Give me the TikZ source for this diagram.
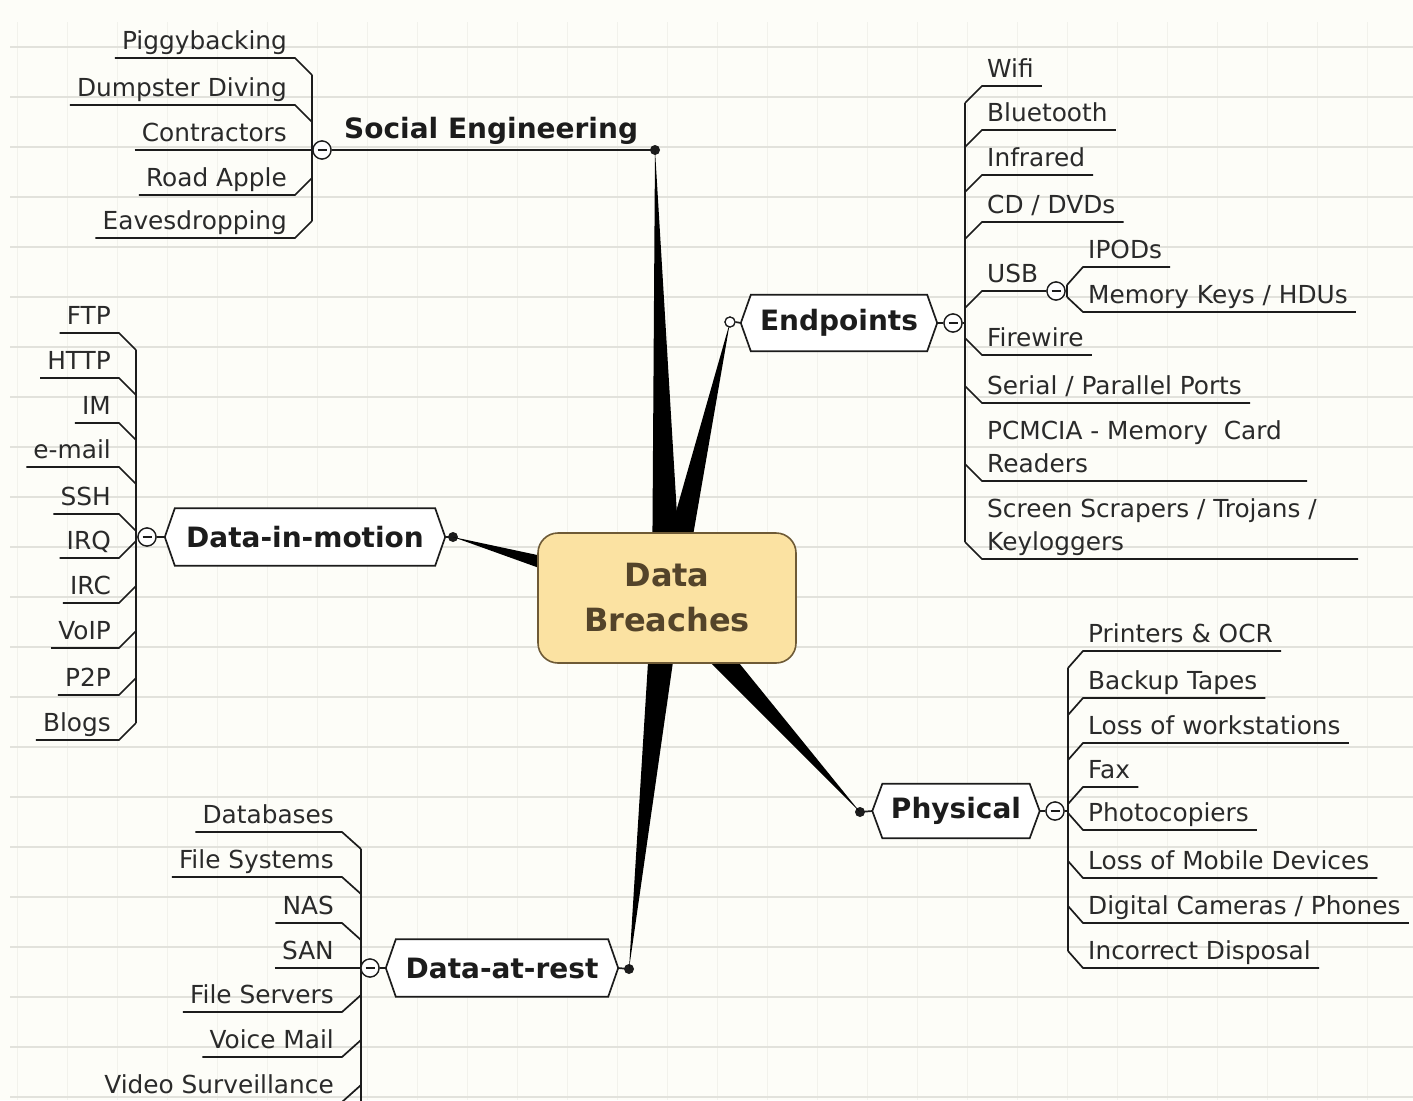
\documentclass[tikz,border=0pt]{standalone}
\usepackage{fontspec}
\setmainfont{DejaVu Sans}
\usetikzlibrary{calc}

\definecolor{paper}{HTML}{FDFDF8}
\definecolor{gridh}{HTML}{E2E2DC}
\definecolor{gridv}{HTML}{F2F2EC}
\definecolor{ink}{HTML}{1C1C1C}
\definecolor{leafink}{HTML}{2A2A2A}
\definecolor{corefill}{HTML}{FBE2A2}
\definecolor{coreline}{HTML}{6E5A36}
\definecolor{coretext}{HTML}{54442A}

\tikzset{
  leaf/.style={font=\fontsize{24.8}{33}\selectfont, text=leafink, inner sep=0pt},
  topic/.style={font=\bfseries\fontsize{28}{32}\selectfont, text=ink, inner sep=0pt},
  hexbox/.style={draw=none, minimum height=56pt, inner sep=0pt,
    font=\bfseries\fontsize{28}{32}\selectfont, text=ink},
  hexline/.style={draw=ink, line width=1.7pt, fill=white, line join=miter},
  conn/.style={draw=ink, line width=1.7pt},
  fold/.style={circle, draw=ink, fill=white, line width=1.3pt, minimum size=18pt, inner sep=0pt,
    path picture={\draw[ink, line width=1.4pt]
      ([xshift=-4.5pt]path picture bounding box.center) -- ([xshift=4.5pt]path picture bounding box.center);}},
  knob/.style={circle, fill=ink, minimum size=10pt, inner sep=0pt},
  ring/.style={circle, draw=ink, fill=white, line width=1.2pt, minimum size=10pt, inner sep=0pt},
  wedge/.style={fill=black},
  core/.style={draw=coreline, fill=corefill, line width=1.6pt, rounded corners=20pt,
    minimum width=258pt, minimum height=130pt, align=center,
    font=\bfseries\fontsize{32}{45}\selectfont, text=coretext},
}

% leaf on the left of its spine: name, text, text right x, underline y, spine x, junction y
\newcommand\lleaf[6]{%
  \node[leaf, anchor=base east] (#1) at (#3,#4-9) {#2};
  \draw[conn] ($(#1.base west)+(-7,9)$) -- ($(#1.base east)+(8,9)$) -- (#5,#6);}
% leaf on the right of its spine: name, text, text left x, underline y, spine x, junction y
\newcommand\rleaf[6]{%
  \node[leaf, anchor=base west] (#1) at (#3,#4-9) {#2};
  \draw[conn] ($(#1.base east)+(8,9)$) -- ($(#1.base west)+(-5,9)$) -- (#5,#6);}
% elongated hexagon around a named box
\newcommand\hexframe[1]{%
  \draw[hexline] (#1.north west) -- (#1.north east) -- ([xshift=10pt]#1.east)
    -- (#1.south east) -- (#1.south west) -- ([xshift=-10pt]#1.west) -- cycle;}

\begin{document}
\begin{tikzpicture}[x=1pt,y=-1pt]
\useasboundingbox (0,0) rectangle (1413,1100);
\fill[paper] (0,0) rectangle (1413,1100);
\begin{scope}
\clip (0,0) rectangle (1413,1100);

% ruled paper
\foreach \k in {0,...,27} \draw[gridv, line width=1pt] (17+50*\k,22) -- (17+50*\k,1100);
\foreach \k in {0,...,21} \draw[gridh, line width=1.2pt] (10,47+50*\k) -- (1413,47+50*\k);

% branch ends
\node[knob] (seDot) at (655,150) {};
\node[ring] (epDot) at (730,322) {};
\node[knob] (dimDot) at (453,537) {};
\node[knob] (phDot) at (860,812) {};
\node[knob] (darDot) at (629,969) {};
\coordinate (hub) at (667,598);

% tapering main branches
\foreach \t in {seDot,epDot,dimDot,phDot,darDot}
  \fill[wedge] (\t.center) -- ($(hub)!15pt!90:(\t.center)$) -- ($(hub)!15pt!-90:(\t.center)$) -- cycle;
\node[ring] at (epDot) {};

% central topic
\node[core] (core) at (hub) {Data\\Breaches};

% ---------- Social Engineering ----------
\node[topic, anchor=base west] (se) at (344,138) {Social Engineering};
\node[fold] (seFold) at (322,150) {};
\draw[conn] (seFold.east) -- (seDot.center);
\lleaf{pig}{Piggybacking}{287}{58}{312}{75}
\lleaf{dump}{Dumpster Diving}{287}{105}{312}{122}
\lleaf{contr}{Contractors}{287}{150}{312}{150}
\lleaf{road}{Road Apple}{287}{195}{312}{178}
\lleaf{eaves}{Eavesdropping}{287}{238}{312}{221}
\draw[conn] (312,75) -- (312,221);
\node[fold] at (seFold) {};

% ---------- Endpoints ----------
\node[hexbox, minimum width=176pt] (ep) at (839,323) {Endpoints};
\hexframe{ep}
\node[hexbox, minimum width=176pt] at (839,323) {Endpoints};
\node[fold] (epFold) at (953,323) {};
\draw[conn] (epDot.east) -- ([xshift=-10pt]ep.west);
\draw[conn] ([xshift=10pt]ep.east) -- (epFold.west);
\draw[conn] (epFold.east) -- (965,323);
\rleaf{wifi}{Wifi}{987}{86}{965}{103}
\rleaf{bt}{Bluetooth}{987}{130}{965}{147}
\rleaf{ir}{Infrared}{987}{175}{965}{192}
\rleaf{cd}{CD / DVDs}{987}{222}{965}{239}
\node[fold] (usbFold) at (1056,291) {};
\node[leaf, anchor=base west] (usb) at (987,282) {USB};
\draw[conn] (usbFold.west) -- (982,291) -- (965,308);
\rleaf{ipod}{IPODs}{1088}{267}{1067}{285}
\rleaf{mkey}{Memory Keys / HDUs}{1088}{312}{1067}{297}
\draw[conn] (1067,285) -- (1067,297);
\node[fold] at (usbFold) {};
\rleaf{fw}{Firewire}{987}{355}{965}{338}
\rleaf{ser}{Serial / Parallel Ports}{987}{403}{965}{386}
\node[leaf, anchor=base west, align=left] (pcm) at (987,472) {PCMCIA - Memory\ \ Card\\Readers};
\draw[conn] (1307,481) -- (982,481) -- (965,464);
\node[leaf, anchor=base west, align=left] (scr) at (987,550) {Screen Scrapers / Trojans /\\Keyloggers};
\draw[conn] (1358,559) -- (982,559) -- (965,542);
\draw[conn] (965,103) -- (965,542);
\node[fold] at (epFold) {};

% ---------- Data-in-motion ----------
\node[hexbox, minimum width=260pt, minimum height=57pt] (dim) at (305,537) {Data-in-motion};
\hexframe{dim}
\node[hexbox, minimum width=260pt, minimum height=57pt] at (305,537) {Data-in-motion};
\node[fold] (dimFold) at (147,537) {};
\draw[conn] (dimDot.center) -- ([xshift=10pt]dim.east);
\draw[conn] (dimFold.east) -- ([xshift=-10pt]dim.west);
\lleaf{ftp}{FTP}{111}{333}{136}{350}
\lleaf{http}{HTTP}{111}{378}{136}{395}
\lleaf{im}{IM}{111}{423}{136}{440}
\lleaf{email}{e-mail}{111}{467}{136}{484}
\lleaf{ssh}{SSH}{111}{514}{136}{531}
\lleaf{irq}{IRQ}{111}{558}{136}{541}
\lleaf{irc}{IRC}{111}{603}{136}{586}
\lleaf{voip}{VoIP}{111}{648}{136}{631}
\lleaf{ptp}{P2P}{111}{695}{136}{678}
\lleaf{blogs}{Blogs}{111}{740}{136}{723}
\draw[conn] (136,350) -- (136,723);
\node[fold] at (dimFold) {};

% ---------- Physical ----------
\node[hexbox, minimum width=147pt, minimum height=54pt] (ph) at (956,811) {Physical};
\hexframe{ph}
\node[hexbox, minimum width=147pt, minimum height=54pt] at (956,811) {Physical};
\node[fold] (phFold) at (1055,811) {};
\draw[conn] (phDot.center) -- ([xshift=-10pt]ph.west);
\draw[conn] ([xshift=10pt]ph.east) -- (phFold.west);
\draw[conn] (phFold.east) -- (1068,811);
\rleaf{prn}{Printers \& OCR}{1088}{651}{1068}{668}
\rleaf{tape}{Backup Tapes}{1088}{698}{1068}{715}
\rleaf{ws}{Loss of workstations}{1088}{743}{1068}{760}
\rleaf{fax}{Fax}{1088}{787}{1068}{804}
\rleaf{copy}{Photocopiers}{1088}{830}{1068}{813}
\rleaf{mob}{Loss of Mobile Devices}{1088}{878}{1068}{861}
\rleaf{cam}{Digital Cameras / Phones}{1088}{923}{1068}{906}
\rleaf{disp}{Incorrect Disposal}{1088}{968}{1068}{951}
\draw[conn] (1068,668) -- (1068,951);
\node[fold] at (phFold) {};

% ---------- Data-at-rest ----------
\node[hexbox, minimum width=212pt, minimum height=57pt] (dar) at (502,968) {Data-at-rest};
\hexframe{dar}
\node[hexbox, minimum width=212pt, minimum height=57pt] at (502,968) {Data-at-rest};
\node[fold] (darFold) at (370,968) {};
\draw[conn] (darDot.center) -- ([xshift=10pt]dar.east);
\draw[conn] (darFold.east) -- ([xshift=-10pt]dar.west);
\lleaf{dbs}{Databases}{334}{832}{361}{849}
\lleaf{fsys}{File Systems}{334}{877}{361}{894}
\lleaf{nas}{NAS}{334}{923}{361}{940}
\lleaf{san}{SAN}{334}{968}{361}{968}
\lleaf{fsrv}{File Servers}{334}{1012}{361}{995}
\lleaf{vmail}{Voice Mail}{334}{1057}{361}{1040}
\lleaf{video}{Video Surveillance}{334}{1102}{361}{1085}
\draw[conn] (361,849) -- (361,1110);
\node[fold] at (darFold) {};
\end{scope}
\end{tikzpicture}
\end{document}
